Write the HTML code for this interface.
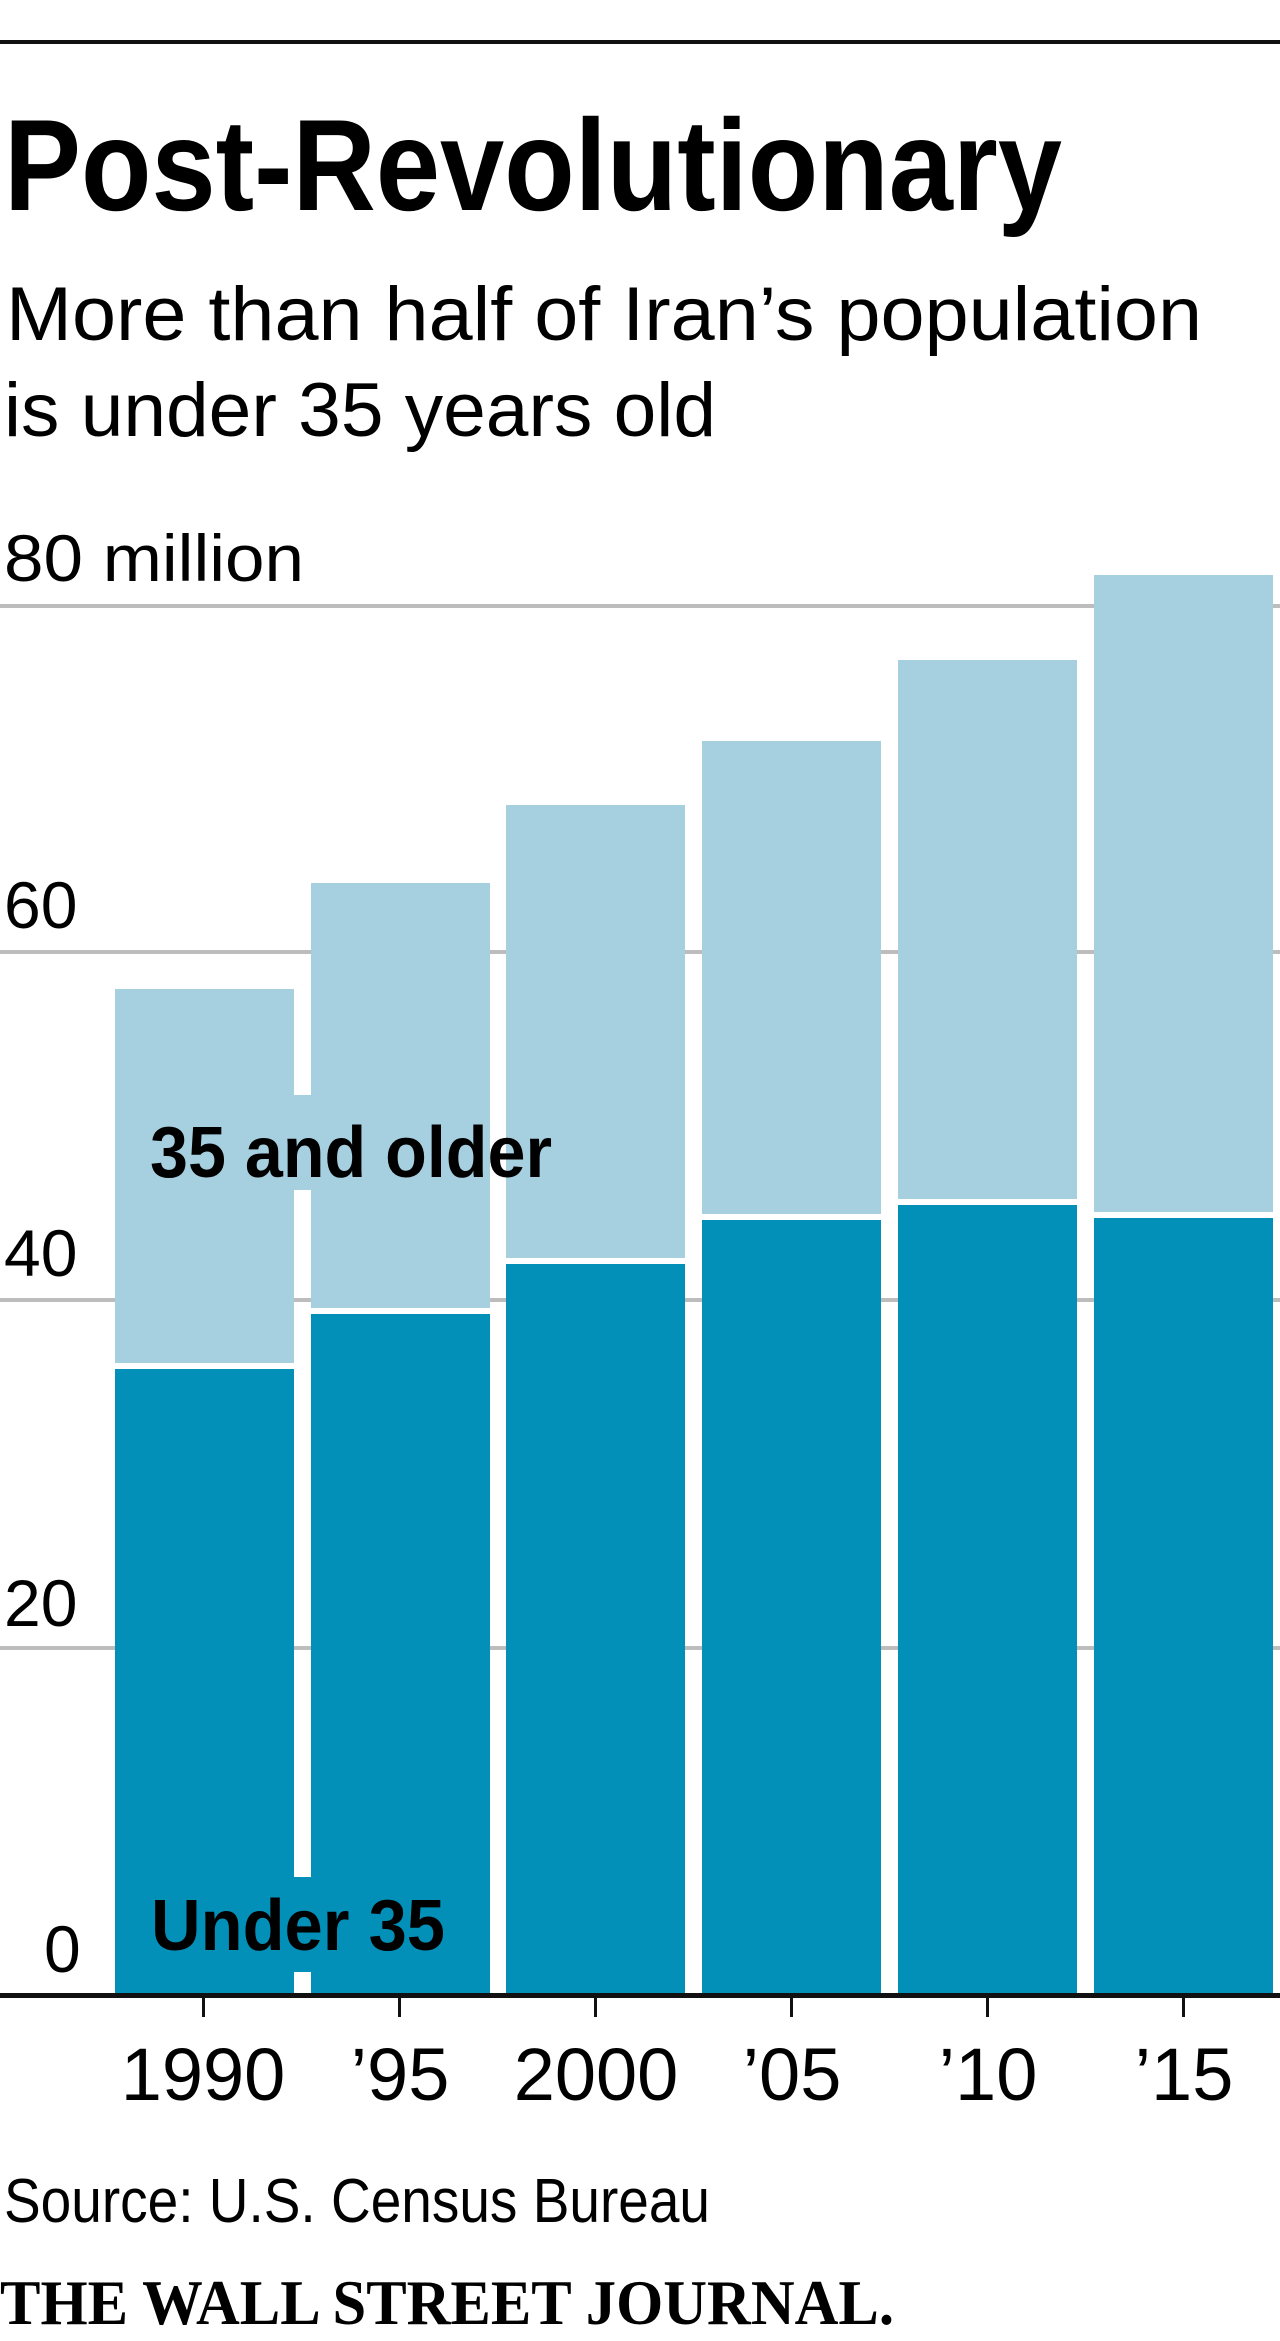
<!DOCTYPE html>
<html><head><meta charset="utf-8"><style>
html,body{margin:0;padding:0;background:#fff;}
svg{display:block;}
text{font-family:"Liberation Sans",sans-serif;}
</style></head><body>
<svg width="1280" height="2341" viewBox="0 0 1280 2341" xmlns="http://www.w3.org/2000/svg">
<rect x="0" y="40" width="1280" height="4" fill="#111"/>
<text x="4" y="210" font-size="130" font-weight="bold" textLength="1058" lengthAdjust="spacingAndGlyphs" fill="#000">Post-Revolutionary</text>
<text x="6" y="340" font-size="76" textLength="1196" lengthAdjust="spacingAndGlyphs" fill="#000">More than half of Iran’s population</text>
<text x="4" y="436" font-size="76" textLength="712" lengthAdjust="spacingAndGlyphs" fill="#000">is under 35 years old</text>
<g fill="#bdbdbd">
<rect x="0" y="604" width="1280" height="4"/>
<rect x="0" y="950" width="1280" height="4"/>
<rect x="0" y="1298" width="1280" height="4"/>
<rect x="0" y="1646" width="1280" height="4"/>
</g>
<g font-size="66" fill="#000">
<text x="4" y="581" textLength="300" lengthAdjust="spacingAndGlyphs">80 million</text>
<text x="4" y="928">60</text>
<text x="4" y="1276">40</text>
<text x="4" y="1626">20</text>
<text x="44" y="1972">0</text>
</g>
<g>
<rect x="115" y="989" width="179" height="374" fill="#a6cfe0"/>
<rect x="115" y="1369" width="179" height="626" fill="#0290b9"/>
<rect x="311" y="883" width="179" height="425" fill="#a6cfe0"/>
<rect x="311" y="1314" width="179" height="681" fill="#0290b9"/>
<rect x="506" y="805" width="179" height="453" fill="#a6cfe0"/>
<rect x="506" y="1264" width="179" height="731" fill="#0290b9"/>
<rect x="702" y="741" width="179" height="473" fill="#a6cfe0"/>
<rect x="702" y="1220" width="179" height="775" fill="#0290b9"/>
<rect x="898" y="660" width="179" height="539" fill="#a6cfe0"/>
<rect x="898" y="1205" width="179" height="790" fill="#0290b9"/>
<rect x="1094" y="575" width="179" height="637" fill="#a6cfe0"/>
<rect x="1094" y="1218" width="179" height="777" fill="#0290b9"/>
</g>
<rect x="290" y="1095" width="30" height="95" fill="#a6cfe0"/>
<rect x="290" y="1877" width="30" height="95" fill="#0290b9"/>
<text x="150" y="1177" font-size="72" font-weight="bold" textLength="402" lengthAdjust="spacingAndGlyphs" fill="#000">35 and older</text>
<text x="151" y="1950" font-size="72" font-weight="bold" textLength="294" lengthAdjust="spacingAndGlyphs" fill="#000">Under 35</text>
<rect x="0" y="1993" width="1280" height="5" fill="#111"/>
<g fill="#111">
<rect x="202" y="1996" width="3" height="21"/>
<rect x="398" y="1996" width="3" height="21"/>
<rect x="594" y="1996" width="3" height="21"/>
<rect x="790" y="1996" width="3" height="21"/>
<rect x="986" y="1996" width="3" height="21"/>
<rect x="1182" y="1996" width="3" height="21"/>
</g>
<g font-size="74" fill="#000" text-anchor="middle">
<text x="203" y="2100">1990</text>
<text x="400" y="2100">’95</text>
<text x="596" y="2100">2000</text>
<text x="792" y="2100">’05</text>
<text x="988" y="2100">’10</text>
<text x="1184" y="2100">’15</text>
</g>
<text x="4" y="2222" font-size="62" textLength="706" lengthAdjust="spacingAndGlyphs" fill="#000">Source: U.S. Census Bureau</text>
<text x="0" y="2324" font-size="64" font-weight="bold" style="font-family:'Liberation Serif',serif" textLength="894" lengthAdjust="spacingAndGlyphs" fill="#000">THE WALL STREET JOURNAL.</text>
</svg>
</body></html>
